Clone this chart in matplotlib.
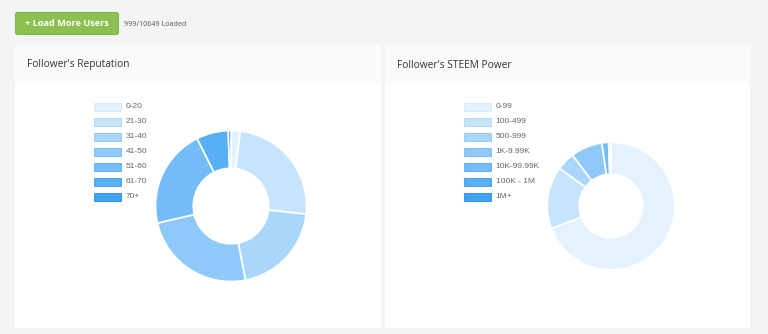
import matplotlib
matplotlib.use("Agg")
import matplotlib.pyplot as plt
from matplotlib.patches import Rectangle, FancyBboxPatch

# Data (999 followers loaded)
rep_labels = ["0-20", "21-30", "31-40", "41-50", "51-60", "61-70", "70+"]
rep_counts = [20, 247, 202, 244, 212, 68, 6]

sp_labels = ["0-99", "100-499", "500-999", "1K-9.99K", "10K-99.99K", "100K - 1M", "1M+"]
sp_counts = [692, 158, 46, 80, 17, 5, 1]

blues = ["#e3f2fd", "#c6e4fb", "#a9d6fa", "#8ec9f9", "#73bcf7", "#59aff6", "#42a2f5"]
edges = ["#d5eafb", "#b4daf8", "#97cbf7", "#7cbef5", "#61b1f4", "#48a4f3", "#3196f0"]

W, H = 768, 334
fig = plt.figure(figsize=(W / 100, H / 100), dpi=100)
fig.patch.set_facecolor("#f3f4f6")

bg = fig.add_axes([0, 0, 1, 1])
bg.set_xlim(0, W)
bg.set_ylim(H, 0)
bg.axis("off")

# button + status text
bg.add_patch(FancyBboxPatch((15.5, 12.5), 103, 22, boxstyle="round,pad=0,rounding_size=2",
                            facecolor="#8cc152", edgecolor="#82b84a", lw=0.8))
bg.text(67, 23.5, "+ Load More Users", color="white", fontsize=6.6, fontweight="bold",
        family="Open Sans", ha="center", va="center")
bg.text(124, 24, "999/10649 Loaded", color="#555555", fontsize=5.1,
        family="Open Sans", ha="left", va="center")

# cards
cards = [(15, 381, "Follower's Reputation"), (385, 750, "Follower's STEEM Power")]
for x0, x1, title in cards:
    bg.add_patch(Rectangle((x0, 45), x1 - x0, 283, facecolor="white", edgecolor="none"))
    bg.add_patch(Rectangle((x0, 45), x1 - x0, 38, facecolor="#fafafa", edgecolor="none"))
    bg.text(x0 + 12, 65, title, color="#333333", fontsize=7.3, family="Open Sans",
            ha="left", va="center")


def legend(x, labels):
    for i, lab in enumerate(labels):
        y = 106.7 + 15 * i
        bg.add_patch(Rectangle((x, y - 4), 27, 8, facecolor=blues[i], edgecolor=edges[i], lw=0.7))
        bg.text(x + 32, y, lab, color="#666666", fontsize=6.0, family="Liberation Sans",
                ha="left", va="center")


def donut(cx, cy, r, counts):
    ax = fig.add_axes([(cx - r) / W, 1 - (cy + r) / H, 2 * r / W, 2 * r / H])
    ax.pie(counts, colors=blues, startangle=90, counterclock=False, radius=1,
           wedgeprops=dict(width=0.5, edgecolor="white", linewidth=1.2))
    ax.set_xlim(-1.02, 1.02)
    ax.set_ylim(-1.02, 1.02)
    ax.axis("off")


legend(94, rep_labels)
donut(231, 206, 77, rep_counts)

legend(463.5, sp_labels)
donut(611, 206, 65, sp_counts)

fig.savefig("out.png", dpi=100, facecolor=fig.get_facecolor())
